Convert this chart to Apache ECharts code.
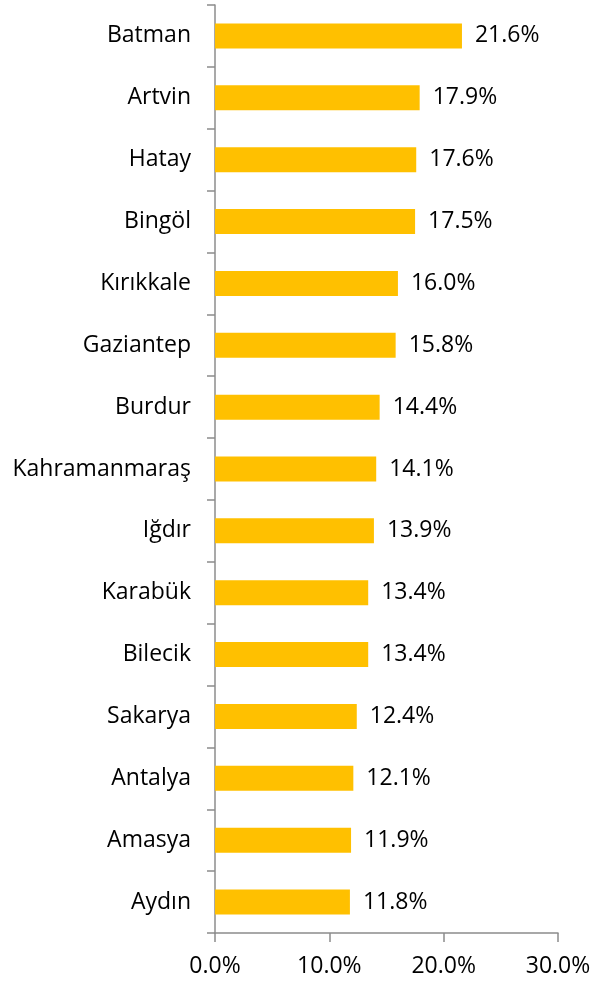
<!DOCTYPE html>
<html style="height: 100%">
<head>
<meta charset="utf-8">
<script src="https://cdn.jsdelivr.net/npm/echarts@6/dist/echarts.min.js"></script>
</head>
<body style="height: 100%; margin: 0; background: #fff">
<div id="main" style="width:605px;height:982px;"></div>
<script type="text/javascript">
// provinces, top to bottom as drawn
var provinces = ['Batman', 'Artvin', 'Hatay', 'Bingöl', 'Kırıkkale', 'Gaziantep', 'Burdur', 'Kahramanmaraş',
                 'Iğdır', 'Karabük', 'Bilecik', 'Sakarya', 'Antalya', 'Amasya', 'Aydın'];
var shares = [21.6, 17.9, 17.6, 17.5, 16.0, 15.8, 14.4, 14.1, 13.9, 13.4, 13.4, 12.4, 12.1, 11.9, 11.8];
var xTicks = [0, 10, 20, 30];

var font = 'Open Sans, Lato, sans-serif';
var axisGrey = '#8c8c8c';

var myChart = echarts.init(document.getElementById('main'));
var option = {
    animation: false,
    grid: { left: 215, right: 47, top: 5, bottom: 49 },
    xAxis: {
        type: 'value',
        min: xTicks[0],
        max: xTicks[xTicks.length - 1],
        interval: 10,
        splitLine: { show: false },
        axisLine: { show: true, lineStyle: { color: axisGrey, width: 1.5 } },
        axisTick: { show: true, length: 9, lineStyle: { color: axisGrey, width: 1.5 } },
        axisLabel: {
            margin: 22, color: '#000', fontSize: 23, fontFamily: font,
            formatter: function (v) { return v.toFixed(1) + '%'; }
        }
    },
    yAxis: {
        type: 'category',
        inverse: true,
        data: provinces,
        axisLine: { show: true, lineStyle: { color: axisGrey, width: 1.5 } },
        axisTick: { show: true, length: 8, inside: false, lineStyle: { color: axisGrey, width: 1.5 } },
        axisLabel: { margin: 24, color: '#000', fontSize: 23, fontFamily: font }
    },
    series: [{
        type: 'bar',
        data: shares,
        barWidth: 25,
        itemStyle: { color: '#FFC000' },
        label: {
            show: true, position: 'right', distance: 13,
            color: '#000', fontSize: 23, fontFamily: font,
            formatter: function (p) { return p.value.toFixed(1) + '%'; }
        }
    }]
};
myChart.setOption(option, true);
</script>
</body>
</html>
